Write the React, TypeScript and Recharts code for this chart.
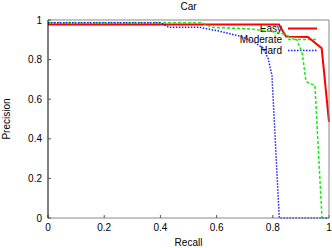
import { LineChart, Line, XAxis, YAxis } from "recharts";

// Precision-recall curves
const easyRecall = [0, 0.822, 0.847, 0.925, 0.974, 1.0];
const easyPrecision = [0.977, 0.977, 0.916, 0.914, 0.857, 0.485];

const moderateRecall = [0, 0.548, 0.584, 0.72, 0.826, 0.886, 0.905, 0.918, 0.93, 0.95, 0.975, 1.0];
const moderatePrecision = [0.986, 0.986, 0.963, 0.955, 0.936, 0.9, 0.83, 0.69, 0.68, 0.67, 0, 0];

const hardRecall = [0, 0.4, 0.43, 0.54, 0.612, 0.683, 0.73, 0.765, 0.783, 0.797, 0.823, 1.0];
const hardPrecision = [0.986, 0.986, 0.963, 0.963, 0.943, 0.918, 0.892, 0.858, 0.807, 0.72, 0, 0];

const ticks = [0, 0.2, 0.4, 0.6, 0.8, 1];
const tickLabels = ["0", "0.2", "0.4", "0.6", "0.8", "1"];

const toPoints = (r: number[], p: number[]) =>
  r.map((x, i) => ({ recall: x, precision: p[i] }));

const series = [
  { name: "Easy", data: toPoints(easyRecall, easyPrecision), color: "#ff0000", width: 2, dash: undefined },
  { name: "Moderate", data: toPoints(moderateRecall, moderatePrecision), color: "#11ee11", width: 1.5, dash: "3 2" },
  { name: "Hard", data: toPoints(hardRecall, hardPrecision), color: "#1a1aff", width: 1.5, dash: "1.5 1.5" },
];

const font = "'Liberation Sans', Arial, sans-serif";
const fmt = (v: number) => tickLabels[ticks.indexOf(v)] ?? String(v);

const App = () => {
  return (
    <div style={{ position: "absolute", left: 0, top: 0, fontFamily: font }}>
      <LineChart
        width={332}
        height={248}
        margin={{ top: 19, right: 2, left: 0, bottom: 0 }}
      >
        <XAxis
          dataKey="recall"
          type="number"
          domain={[0, 1]}
          ticks={ticks}
          tickFormatter={fmt}
          height={30}
          tickSize={-3}
          tickMargin={9}
          axisLine={{ stroke: "#888" }}
          tickLine={{ stroke: "#555" }}
          tick={{ fill: "#000", fontSize: 10, fontFamily: font }}
          label={{ value: "Recall", position: "insideBottom", offset: 2, fill: "#000", fontSize: 10, fontFamily: font }}
        />
        <XAxis
          xAxisId="top"
          orientation="top"
          type="number"
          domain={[0, 1]}
          allowDataOverflow
          ticks={ticks}
          height={1}
          tick={false}
          tickSize={-3}
          axisLine={{ stroke: "#888" }}
          tickLine={{ stroke: "#555" }}
          label={{ value: "Car", position: "top", offset: 9.5, fill: "#000", fontSize: 10, fontFamily: font }}
        />
        <YAxis
          type="number"
          domain={[0, 1]}
          ticks={ticks}
          tickFormatter={fmt}
          width={48}
          tickSize={-3}
          tickMargin={9}
          axisLine={{ stroke: "#000" }}
          tickLine={{ stroke: "#555" }}
          tick={{ fill: "#000", fontSize: 10, fontFamily: font }}
        />
        <YAxis
          yAxisId="right"
          orientation="right"
          type="number"
          domain={[0, 1]}
          allowDataOverflow
          ticks={ticks}
          width={1}
          tick={false}
          tickSize={-3}
          axisLine={{ stroke: "#888" }}
          tickLine={{ stroke: "#555" }}
        />
        {series.map((s) => (
          <Line
            key={s.name}
            data={s.data}
            dataKey="precision"
            name={s.name}
            type="linear"
            stroke={s.color}
            strokeWidth={s.width}
            strokeDasharray={s.dash}
            dot={false}
            activeDot={false}
            isAnimationActive={false}
          />
        ))}
        <text
          x={10}
          y={119}
          transform="rotate(-90 10 119)"
          textAnchor="middle"
          fontSize={10}
          fontFamily={font}
          fill="#000"
        >
          Precision
        </text>
        {series.map((s, i) => (
          <g key={"legend-" + s.name}>
            <text
              x={282}
              y={32 + i * 11}
              textAnchor="end"
              fontSize={10}
              fontFamily={font}
              fill="#000"
            >
              {s.name}
            </text>
            <line
              x1={288}
              x2={317}
              y1={28.5 + i * 11}
              y2={28.5 + i * 11}
              stroke={s.color}
              strokeWidth={s.width}
              strokeDasharray={s.dash}
            />
          </g>
        ))}
      </LineChart>
    </div>
  );
};

export default App;
